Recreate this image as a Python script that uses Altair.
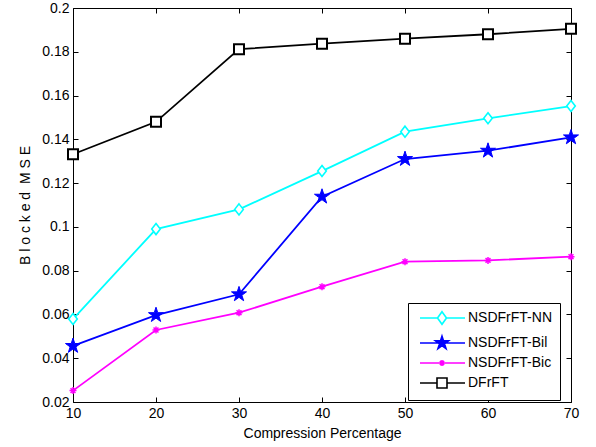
import math
import altair as alt
import pandas as pd

# ---------------- data ----------------
compression = [10, 20, 30, 40, 50, 60, 70]
series_names = ["NSDFrFT-NN", "NSDFrFT-Bil", "NSDFrFT-Bic", "DFrFT"]
mse_nn = [0.0579, 0.0990, 0.1080, 0.1255, 0.1435, 0.1496, 0.1552]
mse_bil = [0.0456, 0.0597, 0.0692, 0.1138, 0.1310, 0.1348, 0.1409]
mse_bic = [0.0252, 0.0529, 0.0608, 0.0727, 0.0841, 0.0847, 0.0864]
mse_dfrft = [0.1332, 0.1480, 0.1812, 0.1837, 0.1860, 0.1880, 0.1905]
series_colors = ["#00FFFF", "#0000FF", "#FF00FF", "#000000"]
x_ticks = [10, 20, 30, 40, 50, 60, 70]
y_ticks = [0.02, 0.04, 0.06, 0.08, 0.1, 0.12, 0.14, 0.16, 0.18, 0.2]

rows = []
for name, vals in zip(series_names, [mse_nn, mse_bil, mse_bic, mse_dfrft]):
    for c, v in zip(compression, vals):
        rows.append({"series": name, "pct": c, "mse": v})
df = pd.DataFrame(rows)

FONT = "Liberation Sans"


def star_path(scale=1.0, cx=0.0):
    pts = []
    for k in range(10):
        r = 1.0 if k % 2 == 0 else 0.382
        a = math.radians(-90 + 36 * k)
        pts.append((cx + scale * r * math.cos(a), scale * r * math.sin(a)))
    return "M" + "L".join(f"{x:.3f},{y:.3f}" for x, y in pts) + "Z"


diamond_path = "M0,-1L0.78,0L0,1L-0.78,0Z"
asterisk_path = "M-1,0H1M0,-1V1M-0.7,-0.7L0.7,0.7M-0.7,0.7L0.7,-0.7"
square_path = "M-1,-1H1V1H-1Z"

# legend symbols: a line segment with the marker in its middle
legend_paths = [
    "M-0.6,0H2.9M4.7,0H8.4M3.8,-1.26L4.7,0L3.8,1.26L2.9,0Z",
    "M-0.6,0H8.4" + star_path(1.37, 3.8),
    "M-0.6,0H8.4M3.2,0H4.4M3.8,-0.6V0.6M3.38,-0.42L4.22,0.42M3.38,0.42L4.22,-0.42",
    "M-0.6,0H2.8M4.8,0H8.4M2.8,-1H4.8V1H2.8Z",
]
legend_fills = ["white", "#0000FF", "white", "white"]


def xs():
    return alt.Scale(domain=[10, 70], nice=False, zero=False)


def ys():
    return alt.Scale(domain=[0.02, 0.2], nice=False, zero=False)


base = alt.Chart(df)


def label_axis_x():
    return alt.Axis(orient="bottom", values=x_ticks, ticks=False, domain=False, grid=False,
                    labelFont=FONT, labelFontSize=14, labelColor="black", labelPadding=4,
                    labelFlush=False, labelOverlap=False,
                    title="Compression Percentage", titleFont=FONT, titleFontSize=14,
                    titleFontWeight="normal", titleColor="black", titlePadding=6)


def label_axis_y():
    return alt.Axis(orient="left", values=y_ticks, ticks=False, domain=False, grid=False,
                    labelFont=FONT, labelFontSize=14, labelColor="black", labelPadding=4,
                    labelFlush=False, labelOverlap=False,
                    labelExpr="format(datum.value, '~g')",
                    title="B l o c k e d\u00a0 M S E", titleFont=FONT, titleFontSize=14,
                    titleFontWeight="normal", titleColor="black", titlePadding=9)


def tick_axis(orient, vals):
    # inward-pointing ticks: the axis is pulled 5px into the plot
    return alt.Axis(orient=orient, values=vals, ticks=True, tickSize=5, tickColor="black",
                    tickWidth=1, labels=False, domain=False, grid=False, title="", offset=-5)


layers = []
for i, name in enumerate(series_names):
    layers.append(
        base.transform_filter(alt.datum.series == name).mark_line(
            strokeWidth=1.8, color=series_colors[i]
        ).encode(
            x=alt.X("pct:Q", scale=xs(), axis=label_axis_x() if i == 0 else None),
            y=alt.Y("mse:Q", scale=ys(), axis=label_axis_y() if i == 0 else None),
        )
    )

pt_nn = base.transform_filter(alt.datum.series == series_names[0]).mark_point(
    shape=diamond_path, size=121, filled=True, fill="white", stroke=series_colors[0], strokeWidth=1.6, opacity=1
).encode(
    x=alt.X("pct:Q", scale=xs(), axis=tick_axis("bottom", x_ticks)),
    y=alt.Y("mse:Q", scale=ys(), axis=tick_axis("left", y_ticks)),
)

pt_bil = base.transform_filter(alt.datum.series == series_names[1]).mark_point(
    shape=star_path(), size=250, filled=True, fill=series_colors[1], stroke=series_colors[1], strokeWidth=1, opacity=1
).encode(
    x=alt.X("pct:Q", scale=xs(), axis=tick_axis("top", x_ticks)),
    y=alt.Y("mse:Q", scale=ys(), axis=tick_axis("right", y_ticks)),
)

pt_bic = base.transform_filter(alt.datum.series == series_names[2]).mark_point(
    shape=asterisk_path, size=49, filled=False, stroke=series_colors[2], strokeWidth=1.5, opacity=1
).encode(
    x=alt.X("pct:Q", scale=xs(), axis=None),
    y=alt.Y("mse:Q", scale=ys(), axis=None),
)

pt_dfrft = base.transform_filter(alt.datum.series == series_names[3]).mark_point(
    shape=square_path, size=100, filled=True, fill="white", stroke=series_colors[3], strokeWidth=2, opacity=1
).encode(
    x=alt.X("pct:Q", scale=xs(), axis=None),
    y=alt.Y("mse:Q", scale=ys(), axis=None),
)

legend_common = dict(
    orient="none", legendX=335, legendY=295, padding=8, strokeColor="black",
    fillColor="white", labelFont=FONT, labelFontSize=14, labelColor="black",
    symbolSize=100, symbolStrokeWidth=1.6, symbolOpacity=1, labelOffset=38, rowPadding=4,
    title=None, cornerRadius=0,
)

# legend-only layer: its own markers are transparent, the legend symbols are opaque
legend_layer = base.mark_point(opacity=0, size=1).encode(
    x=alt.X("pct:Q", scale=xs(), axis=None),
    y=alt.Y("mse:Q", scale=ys(), axis=None),
    stroke=alt.Stroke("series:N", scale=alt.Scale(domain=series_names, range=series_colors),
                      legend=alt.Legend(**legend_common)),
    fill=alt.Fill("series:N", scale=alt.Scale(domain=series_names, range=legend_fills),
                  legend=alt.Legend(**legend_common)),
    shape=alt.Shape("series:N", scale=alt.Scale(domain=series_names, range=legend_paths),
                    legend=alt.Legend(**legend_common)),
)

chart = alt.layer(*layers, pt_nn, pt_bil, pt_bic, pt_dfrft, legend_layer).resolve_scale(
    x="independent", y="independent"
).resolve_axis(
    x="independent", y="independent"
).properties(
    width=498, height=394,
    padding={"left": 73, "top": 8, "right": 25, "bottom": 45},
    autosize=alt.AutoSizeParams(type="none"),
    background="white",
).configure_view(stroke="black", strokeWidth=1)

chart.save("out.html", embed_options={"renderer": "svg", "actions": False})
